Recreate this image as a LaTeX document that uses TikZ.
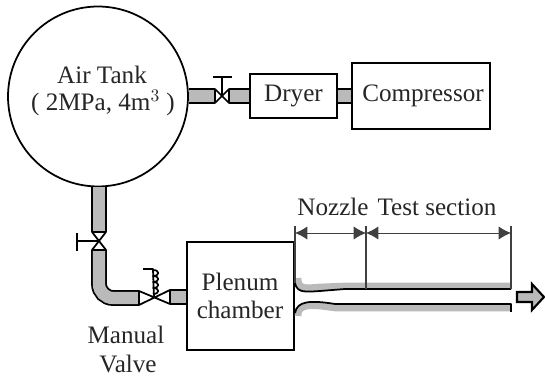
\documentclass[tikz,border=0pt]{standalone}
\usepackage{fontspec}
\setmainfont{Liberation Serif}
\usetikzlibrary{arrows.meta}
\definecolor{pipegray}{gray}{0.73}
\tikzset{
	unit/.style={draw=black, line width=1pt, fill=white, inner sep=0pt},
	pipe/.style={draw=black, line width=1pt, double=pipegray, double distance=7pt},
	wall/.style={line width=1pt, line join=round},
	lining/.style={pipegray, line width=3.8pt},
	span/.style={{Latex[length=7pt,width=7.5pt]}-{Latex[length=7pt,width=7.5pt]}, line width=0.5pt, draw=black!75},
	mark line/.style={line width=0.6pt, draw=black!75},
	txt/.style={text=black!85, inner sep=0pt}
}
\begin{document}
\begin{tikzpicture}[x=0.02cm, y=-0.02cm, font=\fontsize{14.3}{16}\selectfont]
	\useasboundingbox (0,0) rectangle (545,381);
	\node[unit, circle, minimum size=3.6cm] (tank) at (98,96.5) {};
	\node[unit, minimum width=1.74cm, minimum height=0.88cm] (dryer) at (293.5,96) {};
	\node[unit, minimum width=2.76cm, minimum height=1.32cm] (comp) at (421,96) {};
	\node[unit, minimum width=2.14cm, minimum height=2.16cm] (plenum) at (240.5,296) {};
	\coordinate (V1) at (222,96); \coordinate (V2) at (99,241); \coordinate (V3) at (154,298);
	\coordinate (V1l) at (215,96); \coordinate (V1r) at (229,96);
	\coordinate (V2t) at (99,232); \coordinate (V2b) at (99,250);
	\coordinate (V3l) at (139,298); \coordinate (V3r) at (170,297);
	\coordinate (elbow) at (99,298);
	% pipes
	\draw[pipe] (V1r) -- (dryer.west);
	\draw[pipe] (tank.east |- V1l) -- (V1l);
	\draw[pipe] (dryer.east) -- (comp.west);
	\draw[pipe] (tank.south -| V2t) -- (V2t);
	\draw[pipe, rounded corners=8] (V2b) -- (elbow) -- (V3l);
	\draw[pipe] (V3r) -- (plenum.west |- V3r);
	% valves
	\draw[wall, fill=white] (215,89)--(229,103)--(229,89)--(215,103)--cycle;
	\draw[wall, fill=white] (92,232)--(106,232)--(92,250)--(106,250)--cycle;
	\draw[wall, fill=white] (139,291)--(170,304)--(170,290)--(139,305)--cycle;
	\draw[wall] (V1)--(222,77) (213,77)--(232,77);
	\draw[wall] (V2)--(77,241) (77,233)--(77,251);
	\draw[wall] (V3)--(153,269)--(143,269);
	\draw[wall] (153,270) foreach \y in {270,276,282,288} {.. controls (160,\y) and (160,\y+6) .. (153,\y+6)};
	% nozzle and test section
	\draw[lining] (298,278) .. controls (298,290) and (306,288) .. (320,287) -- (345,286) -- (511,286);
	\draw[lining] (298,316) .. controls (298,306) and (306,305) .. (320,306) -- (335,308) -- (511,308);
	\draw[wall] (295,283) .. controls (297,293) and (305,292) .. (320,291) -- (345,289) -- (511,289);
	\draw[wall] (295,313) .. controls (297,301) and (310,300) .. (335,304) -- (511,304) -- (511,312);
	\coordinate (S1) at (295,233); \coordinate (S2) at (366,233); \coordinate (S3) at (511,233);
	\foreach \p/\e in {S1/283,S2/289,S3/289} \draw[mark line] (\p) ++(0,-7) -- ++(0,\e-226);
	\draw[span] (S1) -- (S2);
	\draw[span] (S2) -- (S3);
	\draw[line width=1.2pt, fill=pipegray, line join=miter] (517,292) -- (532,292) -- (532,284) -- (544,297) -- (532,310) -- (532,302) -- (517,302) -- cycle;
	% labels
	\node[txt] (tanklabel) at (102,75) {Air Tank};
	\node[txt] (ratinglabel) at (103,103) {( 2MPa, 4m$^3$ )};
	\node[txt] at (dryer) {Dryer};
	\node[txt] at (423,96) {Compressor};
	\node[txt] at (240,282) {Plenum};
	\node[txt] at (240,310) {chamber};
	\node[txt] (manual) at (126,335) {Manual};
	\node[txt] (valve) at (128,364) {Valve};
	\node[txt] (nozzle) at (333,207) {Nozzle};
	\node[txt] (testsec) at (437,207) {Test section};
\end{tikzpicture}
\end{document}
